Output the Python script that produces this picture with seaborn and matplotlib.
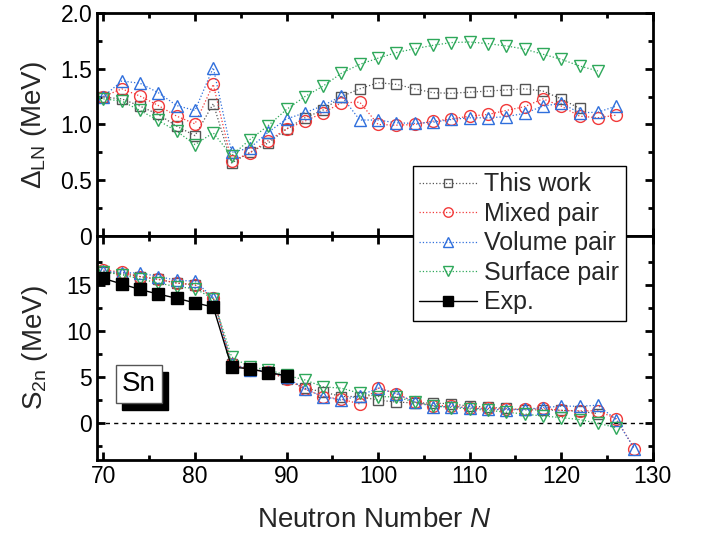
import numpy as np
import matplotlib
matplotlib.use("Agg")
import matplotlib.pyplot as plt
from matplotlib.patches import Rectangle
import seaborn as sns

# ---------------- data ----------------
N_this_top = list(range(70, 123, 2))
this_top = [1.245, 1.23, 1.165, 1.09, 0.985, 0.90, 1.186, 0.655, 0.75, 0.835, 0.96,
            1.06, 1.13, 1.25, 1.32, 1.375, 1.36, 1.32, 1.285, 1.28, 1.29, 1.30, 1.31,
            1.32, 1.30, 1.23, 1.144]
N_mix_top = list(range(70, 127, 2))
mix_top = [1.25, 1.32, 1.255, 1.17, 1.075, 1.006, 1.36, 0.67, 0.745, 0.856, 0.96,
           1.03, 1.105, 1.195, 1.20, 1.0, 0.994, 1.0, 1.03, 1.05, 1.075, 1.09, 1.126,
           1.16, 1.23, 1.165, 1.075, 1.06, 1.084]
N_vol_top = list(range(70, 127, 2))
vol_top = [1.25, 1.39, 1.37, 1.285, 1.17, 1.126, 1.51, 0.75, 0.79, 0.93, 1.05,
           1.105, 1.17, 1.255, 1.04, 1.04, 1.015, 1.01, 1.02, 1.045, 1.06, 1.06, 1.07,
           1.10, 1.165, 1.19, 1.105, 1.11, 1.165]
N_surf_top = list(range(70, 125, 2))
surf_top = [1.23, 1.21, 1.126, 1.036, 0.94, 0.82, 0.925, 0.72, 0.865, 0.99, 1.135,
            1.25, 1.345, 1.46, 1.54, 1.595, 1.645, 1.68, 1.71, 1.735, 1.74, 1.725,
            1.705, 1.676, 1.63, 1.585, 1.525, 1.48]

N_this_bot = list(range(70, 125, 2))
this_bot = [16.4, 16.2, 15.9, 15.6, 15.2, 15.0, 13.6, 6.4, 5.9, 5.6, 4.8, 3.8, 3.4,
            2.9, 2.9, 2.5, 2.3, 2.2, 2.2, 2.1, 1.85, 1.75, 1.6, 1.45, 1.45, 1.4, 1.3, 1.05]
N_mix_bot = list(range(70, 129, 2))
mix_bot = [16.6, 16.4, 15.9, 15.6, 15.2, 15.0, 13.6, 6.4, 5.8, 5.6, 4.8, 3.7, 2.9,
           2.6, 2.1, 3.85, 3.2, 2.3, 1.9, 1.9, 1.65, 1.6, 1.5, 1.55, 1.6, 1.4, 1.35,
           1.35, 0.5, -2.75]
N_vol_bot = list(range(70, 129, 2))
vol_bot = [16.5, 16.3, 16.3, 15.9, 15.5, 15.4, 13.6, 6.4, 5.8, 5.6, 5.0, 3.7, 2.9,
           2.5, 3.0, 3.8, 3.2, 2.3, 1.8, 1.8, 1.65, 1.5, 1.45, 1.5, 1.7, 1.85, 1.85,
           1.95, 0.4, -2.75]
N_surf_bot = list(range(70, 127, 2))
surf_bot = [16.4, 16.1, 15.65, 15.2, 14.8, 14.6, 13.5, 7.2, 6.1, 5.8, 5.2, 4.7, 3.95,
            3.8, 3.25, 2.9, 2.85, 2.3, 1.9, 1.7, 1.55, 1.4, 1.2, 1.0, 0.78, 0.62, 0.4,
            0.0, -0.47]
N_exp = list(range(70, 91, 2))
exp_bot = [15.7, 15.1, 14.5, 14.0, 13.55, 13.05, 12.6, 6.1, 5.9, 5.5, 5.15]

labels = ["This work", "Mixed pair", "Volume pair", "Surface pair", "Exp."]

# ---------------- style ----------------
sns.set_theme(style="ticks")
plt.rcParams["font.family"] = ["Liberation Sans", "DejaVu Sans"]
plt.rcParams["mathtext.fontset"] = "custom"
plt.rcParams["mathtext.rm"] = "Liberation Sans"
plt.rcParams["mathtext.it"] = "Liberation Sans:italic"

C_THIS = "#555555"
C_MIX = "#f23a3a"
C_VOL = "#2f6fdc"
C_SURF = "#2ea85a"

fig = plt.figure(figsize=(7.08, 5.42), dpi=100)
L, R = 0.137, 0.922
ax1 = fig.add_axes([L, 0.5646, R - L, 0.976 - 0.5646])
ax2 = fig.add_axes([L, 0.151, R - L, 0.5646 - 0.151])

specs = [
    ("s", C_THIS, 7.5),
    ("o", C_MIX, 8.5),
    ("^", C_VOL, 9.0),
    ("v", C_SURF, 9.0),
]

top_sets = [(N_this_top, this_top), (N_mix_top, mix_top),
            (N_vol_top, vol_top), (N_surf_top, surf_top)]
bot_sets = [(N_this_bot, this_bot), (N_mix_bot, mix_bot),
            (N_vol_bot, vol_bot), (N_surf_bot, surf_bot)]

handles = []
for (xs, ys), (m, c, ms), lab in zip(top_sets, specs, labels):
    sns.lineplot(x=xs, y=ys, ax=ax1, sort=False, color=c, linestyle=":",
                 linewidth=0.9, marker=m, markersize=ms, markerfacecolor="none",
                 markeredgecolor=c, markeredgewidth=1.0, label=lab)
    handles.append(ax1.lines[-1])
for (xs, ys), (m, c, ms), lab in zip(bot_sets, specs, labels):
    sns.lineplot(x=xs, y=ys, ax=ax2, sort=False, color=c, linestyle=":",
                 linewidth=0.9, marker=m, markersize=ms, markerfacecolor="none",
                 markeredgecolor=c, markeredgewidth=1.0)
sns.lineplot(x=N_exp, y=exp_bot, ax=ax2, sort=False, color="black", linestyle="-",
             linewidth=1.0, marker="s", markersize=9, markerfacecolor="black",
             markeredgecolor="black", markeredgewidth=1.0, label=labels[4], zorder=5)
handles.append(ax2.lines[-1])

for ax in (ax1, ax2):
    if ax.get_legend() is not None:
        ax.get_legend().remove()

ax2.axhline(0, color="black", linestyle=(0, (3, 3)), linewidth=1.0, zorder=1)

# axes formatting
for ax in (ax1, ax2):
    ax.set_xlim(69.3, 130)
    ax.set_xticks([70, 80, 90, 100, 110, 120, 130])
    ax.set_xticks(np.arange(75, 130, 10), minor=True)
    ax.tick_params(which="both", direction="in", top=True, right=True, width=2,
                   labelsize=16.5, colors="black")
    ax.tick_params(which="major", length=6)
    ax.tick_params(which="minor", length=3.5)
    for s in ax.spines.values():
        s.set_linewidth(2)
        s.set_color("black")
    ax.set_facecolor("white")
    ax.grid(False)

ax1.set_ylim(0, 2.0)
ax1.set_yticks([0, 0.5, 1.0, 1.5, 2.0])
ax1.set_yticklabels(["0", "0.5", "1.0", "1.5", "2.0"])
ax1.set_yticks(np.arange(0.25, 2.0, 0.5), minor=True)
ax1.tick_params(labelbottom=False)
ax1.set_ylabel(r"$\Delta_{\mathrm{LN}}$ (MeV)", fontsize=20, labelpad=8)

ax2.set_ylim(-4, 20.3)
ax2.set_yticks([0, 5, 10, 15])
ax2.set_yticks([-2.5, 2.5, 7.5, 12.5, 17.5], minor=True)
ax2.set_ylabel(r"S$_{\mathrm{2n}}$ (MeV)", fontsize=20, labelpad=12)
ax2.set_xlabel(r"Neutron Number $\it{N}$", fontsize=20, labelpad=14)

# Sn label with shadow
sn = ax2.text(0.0755, 0.339, "Sn", transform=ax2.transAxes, fontsize=20,
              color="black", ha="center", va="center",
              bbox=dict(boxstyle="square,pad=0.22", fc="white", ec="#555555", lw=1),
              zorder=7)

leg = fig.legend(handles=handles, labels=labels, loc="upper left",
                 bbox_to_anchor=(413 / 708, 1 - 166 / 542), fontsize=18,
                 frameon=True, fancybox=False, edgecolor="black", facecolor="white",
                 framealpha=1.0, handlelength=2.3, handletextpad=0.3,
                 labelspacing=0.22, borderpad=0.25, borderaxespad=0,
                 markerscale=0.8)
leg.get_frame().set_linewidth(1.0)
leg.set_zorder(20)

# shadow behind the Sn box
fig.canvas.draw()
bb = sn.get_bbox_patch().get_window_extent(fig.canvas.get_renderer())
inv = fig.transFigure.inverted()
(x0, y0), (x1, y1) = inv.transform([[bb.x0 + 6, bb.y0 - 7], [bb.x1 + 6, bb.y1 - 7]])
ax2.add_patch(Rectangle((x0, y0), x1 - x0, y1 - y0, transform=fig.transFigure,
                        facecolor="black", edgecolor="black", zorder=6,
                        clip_on=False))

fig.savefig("out.png", dpi=100, facecolor="white")
